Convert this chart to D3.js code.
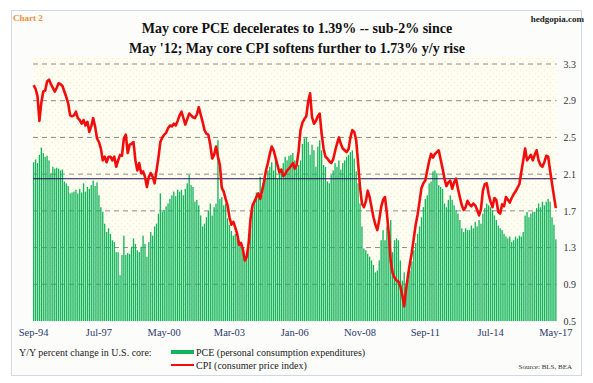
<!DOCTYPE html>
<html><head><meta charset="utf-8">
<script src="https://cdn.jsdelivr.net/npm/d3@7"></script>
<style>
html,body{margin:0;padding:0;background:#fff;}
svg{display:block;font-family:"Liberation Serif","Times New Roman",serif;}
</style></head>
<body><svg id="c" width="593" height="383"></svg>
<script>
// ---- data ----
const titleLines = ["May core PCE decelerates  to 1.39% -- sub-2% since", "May '12; May core CPI softens further to 1.73% y/y rise"];
const xTickLabels = ["Sep-94","Jul-97","May-00","Mar-03","Jan-06","Nov-08","Sep-11","Jul-14","May-17"];
const xTickIndex = [0,34,68,102,136,170,204,238,272];
const yTicks = [0.5,0.9,1.3,1.7,2.1,2.5,2.9,3.3];
const refLevel = 2.05;
const pce = [
2.23,2.26,2.22,2.31,2.39,2.33,2.29,2.30,2.25,2.11,2.18,2.16,2.17,2.16,2.14,2.15,2.02,2.00,1.97,1.89,
1.90,1.91,1.93,1.89,1.94,1.90,2.00,1.91,1.96,1.94,1.98,2.03,1.97,2.01,1.87,1.74,1.69,1.56,1.47,1.51,
1.45,1.38,1.36,1.25,1.25,1.00,1.22,1.43,1.22,1.24,1.23,1.31,1.40,1.34,1.27,1.25,1.31,1.43,1.34,1.20,
1.36,1.47,1.43,1.53,1.56,1.67,1.89,1.69,1.71,1.75,1.78,1.83,1.87,1.91,1.86,1.93,1.91,1.93,1.87,1.94,
2.00,2.09,1.98,1.96,1.80,1.82,1.76,1.65,1.53,1.56,1.63,1.70,1.78,1.65,1.74,1.78,2.47,1.83,1.85,1.76,
1.78,1.62,1.55,1.48,1.43,1.45,1.40,1.38,1.32,1.25,1.18,1.20,1.30,1.55,1.71,1.82,1.90,1.89,2.07,1.87,
2.02,2.05,2.14,2.18,2.23,2.14,2.27,2.05,2.11,2.16,2.22,2.29,2.25,2.30,2.31,2.33,2.25,2.22,2.20,2.25,
2.43,2.49,2.50,2.45,2.31,2.42,2.36,2.18,2.40,2.47,2.36,2.20,2.18,2.02,2.00,2.09,2.14,2.22,2.18,2.25,
2.15,2.22,2.25,2.29,2.31,2.34,2.36,2.27,2.13,2.00,1.78,1.53,1.29,1.27,1.23,1.20,1.16,1.11,1.03,1.05,
1.16,1.38,1.49,1.38,1.53,1.40,1.60,1.25,1.38,1.40,1.38,1.16,0.94,1.03,0.85,0.95,1.05,1.15,1.27,1.35,
1.45,1.53,1.63,1.74,1.83,1.87,2.00,2.02,2.13,2.14,2.11,1.98,1.96,1.94,1.78,1.74,1.82,1.87,1.82,1.76,
1.71,1.67,1.60,1.51,1.47,1.51,1.49,1.49,1.54,1.51,1.58,1.53,1.60,1.56,1.67,1.73,1.78,1.76,1.74,1.71,
1.65,1.60,1.54,1.51,1.49,1.45,1.42,1.40,1.42,1.36,1.38,1.42,1.40,1.43,1.42,1.47,1.65,1.69,1.63,1.67,
1.69,1.69,1.73,1.78,1.74,1.80,1.76,1.80,1.83,1.80,1.63,1.55,1.39];
const cpi = [
3.07,3.03,2.95,2.68,2.88,3.00,3.01,3.11,3.13,3.08,3.04,3.00,3.04,3.09,3.08,3.06,3.00,2.94,2.87,2.74,
2.73,2.74,2.78,2.71,2.69,2.65,2.69,2.63,2.67,2.56,2.62,2.71,2.62,2.49,2.45,2.38,2.25,2.29,2.23,2.29,
2.29,2.25,2.29,2.18,2.25,2.31,2.30,2.49,2.53,2.33,2.42,2.43,2.45,2.25,2.14,2.22,2.11,2.13,2.07,1.96,
2.07,2.11,2.07,2.00,2.14,2.28,2.45,2.50,2.53,2.55,2.60,2.63,2.62,2.65,2.63,2.68,2.74,2.78,2.71,2.64,
2.70,2.76,2.74,2.72,2.71,2.75,2.83,2.75,2.67,2.58,2.54,2.53,2.42,2.27,2.31,2.40,2.29,2.20,1.95,1.91,
1.83,1.76,1.63,1.55,1.58,1.52,1.45,1.33,1.35,1.28,1.16,1.20,1.35,1.62,1.76,1.80,1.85,1.89,1.83,1.92,
2.02,2.14,2.22,2.32,2.40,2.36,2.28,2.20,2.12,2.15,2.08,2.10,2.14,2.16,2.19,2.22,2.16,2.20,2.35,2.58,
2.66,2.70,2.73,2.89,2.98,2.72,2.65,2.68,2.73,2.76,2.54,2.38,2.29,2.27,2.24,2.22,2.26,2.35,2.43,2.50,
2.43,2.38,2.36,2.34,2.37,2.50,2.58,2.56,2.47,2.22,1.96,1.78,1.74,1.80,1.92,1.85,1.74,1.63,1.55,1.49,
1.60,1.74,1.82,1.85,1.67,1.45,1.15,1.02,0.97,0.94,0.93,0.88,0.78,0.66,0.85,1.00,1.13,1.25,1.40,1.55,
1.66,1.80,1.95,2.00,2.03,2.14,2.24,2.32,2.28,2.32,2.34,2.36,2.26,2.16,2.05,1.97,2.01,2.03,1.94,2.01,
2.05,1.94,1.85,1.76,1.71,1.74,1.81,1.77,1.75,1.78,1.76,1.71,1.65,1.72,1.92,1.99,2.00,1.88,1.80,1.74,
1.84,1.82,1.69,1.67,1.77,1.75,1.85,1.82,1.79,1.84,1.88,1.91,1.95,1.99,2.12,2.25,2.38,2.25,2.28,2.31,
2.25,2.31,2.36,2.25,2.20,2.18,2.23,2.30,2.29,2.14,2.00,1.86,1.73];
const months = d3.timeMonth.range(new Date(1994,8,1), new Date(2017,5,1));

// ---- drawing ----
const svg = d3.select("#c");
const L = 33, R = 556.5, T = 64, B = 321;
const defs = svg.append("defs");
const pat = defs.append("pattern").attr("id","dots").attr("width",6).attr("height",6).attr("patternUnits","userSpaceOnUse");
pat.append("rect").attr("width",6).attr("height",6).attr("fill","#fffef3");
pat.append("circle").attr("cx",1.5).attr("cy",1.5).attr("r",0.8).attr("fill","#f6f0c8");
pat.append("circle").attr("cx",4.5).attr("cy",4.5).attr("r",0.8).attr("fill","#f6f0c8");

// frame
svg.append("rect").attr("x",11.5).attr("y",10.5).attr("width",570).attr("height",365)
  .attr("fill","#fcfcfb").attr("stroke","#cfd8e6").attr("stroke-width",1);
svg.append("rect").attr("x",L).attr("y",56).attr("width",R-L).attr("height",B-56).attr("fill","url(#dots)");

const x = d3.scaleBand().domain(d3.range(months.length)).range([L, R]).paddingInner(0.32).paddingOuter(0);
const y = d3.scaleLinear().domain([0.5, 3.3]).range([B, T]);

// gridlines
svg.append("g").selectAll("line").data(yTicks.filter(d=>d>0.5)).join("line")
  .attr("x1",L).attr("x2",R).attr("y1",d=>y(d)).attr("y2",d=>y(d))
  .attr("stroke","#8c8c8c").attr("stroke-width",1).attr("stroke-dasharray","5,4");

// bars
svg.append("g").selectAll("rect").data(pce).join("rect")
  .attr("x",(d,i)=>x(i)).attr("width",x.bandwidth())
  .attr("y",d=>y(d)).attr("height",d=>B-y(d))
  .attr("fill","#10b45a");

// reference line
svg.append("line").attr("x1",L).attr("x2",R).attr("y1",y(refLevel)).attr("y2",y(refLevel))
  .attr("stroke","#1c1450").attr("stroke-width",1.2);

// cpi line
const line = d3.line().x((d,i)=>x(i)+x.bandwidth()/2).y(d=>y(d)).curve(d3.curveLinear);
svg.append("path").datum(cpi).attr("d",line).attr("fill","none")
  .attr("stroke","#f20d0d").attr("stroke-width",2.6).attr("stroke-linejoin","round");

// axes
const yAxis = d3.axisRight(y).tickValues(yTicks).tickFormat(d3.format(".1f")).tickSize(0).tickPadding(7);
const gy = svg.append("g").attr("transform",`translate(${R},0)`).call(yAxis);
gy.select(".domain").remove();
gy.selectAll("text").attr("font-family","Liberation Serif, serif").attr("font-size",10).attr("fill","#333");

const xAxis = d3.axisBottom(x).tickValues(xTickIndex).tickFormat((d)=>xTickLabels[xTickIndex.indexOf(d)]).tickSize(0).tickPadding(8);
const gx = svg.append("g").attr("transform",`translate(0,${B})`).call(xAxis);
gx.select(".domain").remove();
gx.selectAll("text").attr("font-family","Liberation Serif, serif").attr("font-size",10.5).attr("fill","#2a3a6a");

// titles
svg.append("text").attr("x",13).attr("y",21).text("Chart 2")
  .attr("font-size",9).attr("font-weight","bold").attr("fill","#e8923c");
svg.append("text").attr("x",584).attr("y",22).attr("text-anchor","end").text("hedgopia.com")
  .attr("font-size",9).attr("font-weight","bold").attr("fill","#222");
svg.selectAll("text.title").data(titleLines).join("text").attr("class","title")
  .attr("x",297).attr("y",(d,i)=>33+i*19.5).attr("text-anchor","middle")
  .attr("font-size",14).attr("font-weight","bold").attr("fill","#111").text(d=>d);

// legend
const lg = svg.append("g");
lg.append("text").attr("x",19).attr("y",356).attr("font-size",10).attr("fill","#222").text("Y/Y percent change in U.S. core:");
lg.append("rect").attr("x",171).attr("y",350).attr("width",23).attr("height",4).attr("fill","#10b45a");
lg.append("text").attr("x",196).attr("y",356).attr("font-size",10).attr("fill","#222").text("PCE (personal consumption expenditures)");
lg.append("rect").attr("x",171).attr("y",364).attr("width",23).attr("height",2).attr("fill","#f20d0d");
lg.append("text").attr("x",196).attr("y",369).attr("font-size",10).attr("fill","#222").text("CPI (consumer price index)");
lg.append("text").attr("x",572).attr("y",369).attr("text-anchor","end").attr("font-size",7).attr("fill","#333").text("Source: BLS, BEA");
</script></body></html>
